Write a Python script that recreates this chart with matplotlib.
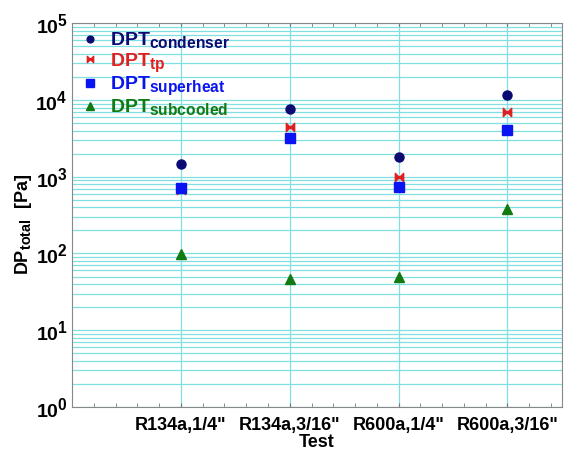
import numpy as np
import matplotlib.pyplot as plt
import matplotlib._mathtext as mtext
from matplotlib.path import Path
from matplotlib.ticker import FixedLocator, LogLocator, NullFormatter

plt.rcParams['font.family'] = 'Liberation Sans'
plt.rcParams['font.weight'] = 'bold'
plt.rcParams['mathtext.fontset'] = 'custom'
plt.rcParams['mathtext.rm'] = 'Liberation Sans:bold'
plt.rcParams['mathtext.bf'] = 'Liberation Sans:bold'
mtext.SHRINK_FACTOR = 0.8  # larger subscripts

tests = ['R134a,1/4"', 'R134a,3/16"', 'R600a,1/4"', 'R600a,3/16"']
xpos = [1, 2, 3, 4]
dp_condenser = [1470, 7600, 1790, 11500]
dp_tp = [670, 4450, 1000, 6900]
dp_superheat = [720, 3200, 730, 4050]
dp_subcooled = [98, 47, 50, 385]

# bow-tie marker for the two-phase series
bowtie = Path([(-1, -1), (0, 0), (-1, 1), (-1, -1), (1, -1), (0, 0), (1, 1), (1, -1)],
              [Path.MOVETO, Path.LINETO, Path.LINETO, Path.CLOSEPOLY,
               Path.MOVETO, Path.LINETO, Path.LINETO, Path.CLOSEPOLY])

fig = plt.figure(figsize=(5.67, 4.5), dpi=100)
ax = fig.add_axes([0.127, 0.096, 0.864, 0.852])

gc = '#80dfe0'
ax.set_yscale('log')
ax.set_ylim(1, 1e5)
ax.set_xlim(0, 4.5)
ax.set_xticks(xpos)
ax.set_xticklabels(tests, fontsize=13, fontweight='bold')
ax.xaxis.set_minor_locator(FixedLocator(np.arange(0.2, 4.5, 0.2)))
ax.yaxis.set_minor_locator(LogLocator(base=10, subs=np.arange(2, 10)))
ax.yaxis.set_minor_formatter(NullFormatter())
ax.grid(True, which='major', axis='x', color=gc, lw=0.9)
ax.grid(True, which='both', axis='y', color=gc, lw=0.9)
ax.set_axisbelow(True)
ax.tick_params(axis='x', which='both', top=True, direction='in', length=3, color='#777777')
ax.tick_params(axis='y', which='both', length=0, labelsize=14, pad=3)
ax.tick_params(axis='x', which='major', pad=7)
for s in ax.spines.values():
    s.set_color('#888888')

ax.plot(xpos, dp_condenser, 'o', color='#0a0a72', ms=6.5, label=r'DPT$_{\mathbf{condenser}}$')
ax.plot(xpos, dp_tp, marker=bowtie, ls='none', color='#e02020', ms=6, label=r'DPT$_{\mathbf{tp}}$')
ax.plot(xpos, dp_superheat, 's', color='#0a14f0', ms=7, label=r'DPT$_{\mathbf{superheat}}$')
ax.plot(xpos, dp_subcooled, '^', color='#117a11', ms=7, label=r'DPT$_{\mathbf{subcooled}}$')

leg = ax.legend(loc='upper left', frameon=False, fontsize=14, handlelength=0.8,
                handletextpad=0.65, labelspacing=0.0, borderaxespad=0.1, borderpad=0.3,
                markerscale=0.75)
leg.set_bbox_to_anchor((0.005, 1.0), transform=ax.transAxes)
for t, c in zip(leg.get_texts(), ['#0a0a72', '#e02020', '#0a14f0', '#117a11']):
    t.set_color(c)

ax.set_xlabel('Test', fontsize=13, fontweight='bold', labelpad=0)
ax.set_ylabel(r'DP$_{\mathbf{total}}$  [Pa]', fontsize=13, fontweight='bold')
ax.yaxis.set_label_coords(-0.077, 0.476)

fig.savefig('out.png', dpi=100)
